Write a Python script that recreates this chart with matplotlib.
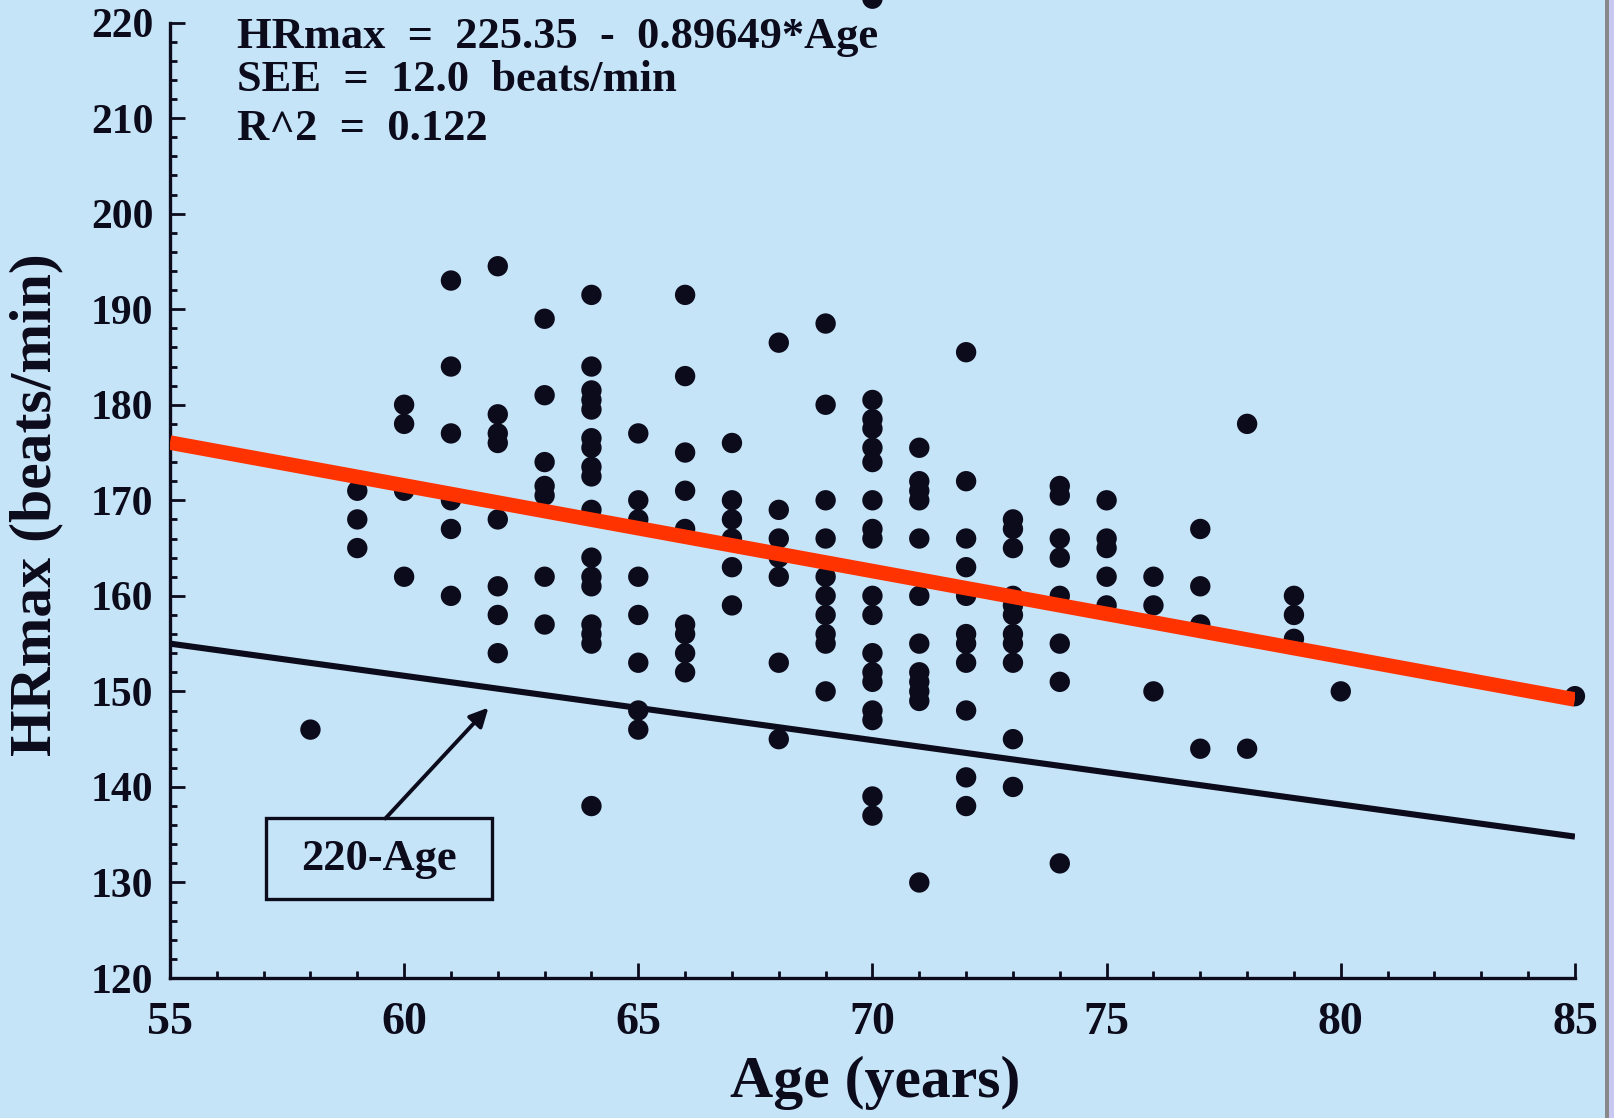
import matplotlib as mpl
mpl.use('Agg')
import matplotlib.pyplot as plt
from matplotlib.patches import Rectangle
from matplotlib.ticker import MultipleLocator

plt.rcParams['font.family'] = ['Liberation Serif', 'DejaVu Serif']
plt.rcParams['font.weight'] = 'bold'

age = ([58] + [59] * 3 + [60] * 4 + [61] * 6 + [62] * 8 + [63] * 7 + [64] * 17 +
       [65] * 8 + [66] * 9 + [67] * 6 + [68] * 7 + [69] * 10 + [70] * 18 +
       [71] * 12 + [72] * 11 + [73] * 11 + [74] * 8 + [75] * 5 + [76] * 3 +
       [77] * 4 + [78] * 2 + [79] * 3 + [80] + [85])
hr_max = [
    146,
    171, 168, 165,
    180, 178, 171, 162,
    193, 184, 177, 170, 167, 160,
    194.5, 179, 177, 176, 168, 161, 158, 154,
    189, 181, 174, 171.5, 170.5, 162, 157,
    191.5, 184, 181.5, 180.5, 179.5, 176.5, 175.5, 173.5, 172.5, 169, 164, 162, 161, 157, 156, 155, 138,
    177, 170, 168, 162, 158, 153, 148, 146,
    191.5, 183, 175, 171, 167, 157, 156, 154, 152,
    176, 170, 168, 166, 163, 159,
    186.5, 169, 166, 164, 162, 153, 145,
    188.5, 180, 170, 166, 162, 160, 158, 156, 155, 150,
    222.5, 180.5, 178.5, 177.5, 175.5, 174, 170, 167, 166, 160, 158, 154, 152, 151, 148, 147, 139, 137,
    175.5, 172, 171, 170, 166, 160, 155, 152, 151, 150, 149, 130,
    185.5, 172, 166, 163, 160, 156, 155, 153, 148, 141, 138,
    168, 167, 165, 160, 159, 158, 156, 155, 153, 145, 140,
    171.5, 170.5, 166, 164, 160, 155, 151, 132,
    170, 166, 165, 162, 159,
    162, 159, 150,
    167, 161, 157, 144,
    178, 144,
    160, 158, 155.5,
    150,
    149.5,
]

# regression line from the printed equation
fit_intercept = 225.35
fit_slope = -0.89649
fit_age = [55, 85]

# the "220-Age" reference line as drawn in the figure
ref_age = [55, 85]
ref_hr = [155, 134.8]

BG = '#c6e4f8'
INK = '#0c0b1c'
RED = '#ff3300'

fig = plt.figure(figsize=(16.14, 11.18), dpi=100, facecolor=BG)
ax = fig.add_axes([0.1053, 0.1252, 0.8705, 0.8546])
ax.set_facecolor(BG)
for side in ('top', 'right'):
  ax.spines[side].set_visible(False)
for side in ('left', 'bottom'):
  ax.spines[side].set_linewidth(2.4)
  ax.spines[side].set_color(INK)

ax.set_xlim(55, 85)
ax.set_ylim(120, 220)
ax.xaxis.set_major_locator(MultipleLocator(5))
ax.xaxis.set_minor_locator(MultipleLocator(1))
ax.yaxis.set_major_locator(MultipleLocator(10))
ax.yaxis.set_minor_locator(MultipleLocator(2))
ax.tick_params(which='both', direction='in', color=INK, width=2, labelcolor=INK)
ax.tick_params(which='major', length=11)
ax.tick_params(which='minor', length=5)
ax.tick_params(axis='x', pad=17, labelsize=33)
ax.tick_params(axis='y', pad=12, labelsize=30)

ax.plot(ref_age, ref_hr, color=INK, lw=4.4, solid_capstyle='butt', zorder=2)
ax.scatter(age, hr_max, s=215, color=INK, edgecolors='none', zorder=3, clip_on=False)
fit_hr = [fit_intercept + fit_slope * a for a in fit_age]
ax.plot(fit_age, fit_hr, color=RED, lw=10.5, solid_capstyle='butt', zorder=4)

# labelled box with arrow pointing at the reference line
ax.add_patch(Rectangle((57.05, 128.3), 4.83, 8.4, fill=False, ec=INK, lw=2.4, zorder=5))
ax.text(59.46, 132.5, '220-Age', ha='center', va='center', fontsize=32, color=INK, zorder=5)
ax.annotate('', xy=(61.8, 148.3), xytext=(59.6, 136.7),
            arrowprops=dict(arrowstyle='-|>', lw=2.8, color=INK, mutation_scale=28,
                            shrinkA=0, shrinkB=0), zorder=5)

ax.text(56.43, 218.5, 'HRmax  =  225.35  -  0.89649*Age', ha='left', va='center', fontsize=32, color=INK)
ax.text(56.43, 214.0, 'SEE  =  12.0  beats/min', ha='left', va='center', fontsize=32, color=INK)
ax.text(56.43, 208.9, 'R^2  =  0.122', ha='left', va='center', fontsize=32, color=INK)

ax.set_xlabel('Age (years)', fontsize=43, fontweight='bold', color=INK)
ax.xaxis.set_label_coords(0.502, -0.11)
ax.xaxis.label.set_va('center')
ax.set_ylabel('HRmax (beats/min)', fontsize=43, fontweight='bold', color=INK)
ax.yaxis.set_label_coords(-0.095, 0.496)
ax.yaxis.label.set_va('center')

# scanned page edge on the right
fig.patches.append(Rectangle((0.9944, 0), 0.0025, 1, transform=fig.transFigure, fc='#888888', ec='none'))
fig.patches.append(Rectangle((0.9969, 0), 0.0031, 1, transform=fig.transFigure, fc='#c8c8f0', ec='none'))

fig.savefig('out.png', dpi=100, facecolor=BG)
plt.close()
